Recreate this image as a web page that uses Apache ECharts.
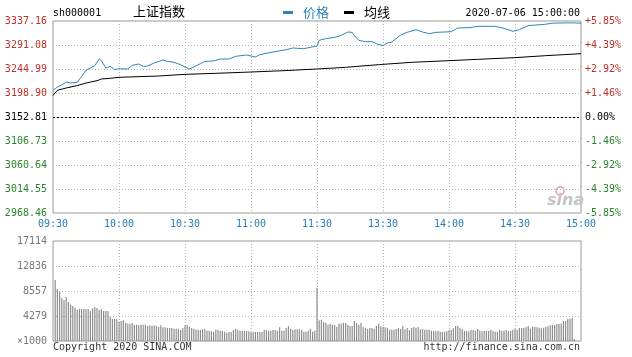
<!DOCTYPE html>
<html><head><meta charset="utf-8">
<script src="https://cdn.jsdelivr.net/npm/echarts@6/dist/echarts.min.js"></script>
<style>html,body{margin:0;padding:0;background:#fff}#c{width:632px;height:357px}</style>
</head><body><div id="c"></div>
<script>
// ---------- data ----------
const timeLabels = ['09:30','10:00','10:30','11:00','11:30','13:30','14:00','14:30','15:00'];
const priceTicks = ['2968.46','3014.55','3060.64','3106.73','3152.81','3198.90','3244.99','3291.08','3337.16'];
const pctTicks = ['-5.85%','-4.39%','-2.92%','-1.46%','0.00%','+1.46%','+2.92%','+4.39%','+5.85%'];
const volTicks = ['\u00d71000','4279','8557','12836','17114'];
const priceMin = 2968.46, priceMax = 3337.16, prevClose = 3152.81, volMax = 17114;

const priceMinutes = [0,2,5,6,8,11,13,15,17,19,21,22,24,26,28,30,34,36,39,41,43,46,50,52,55,58,60,62,64,67,69,73,76,80,83,88,92,94,100,106,109,114,119,120,121,124,128,131,134,136,137,139,142,145,147,150,152,154,158,161,165,168,171,174,178,181,184,189,193,201,205,209,212,216,224,227,233,237,240];
const priceValues = [3204.0,3210.4,3216.8,3220.0,3218.1,3219.4,3230.9,3242.4,3246.9,3251.4,3264.2,3261.0,3246.9,3250.1,3243.7,3245.6,3245.0,3252.0,3254.6,3250.1,3250.8,3256.5,3262.3,3259.7,3257.8,3253.3,3248.8,3245.0,3248.8,3255.2,3259.7,3260.4,3264.2,3264.2,3269.3,3271.9,3268.0,3272.5,3277.6,3282.1,3285.3,3284.0,3288.5,3288.5,3300.0,3303.2,3305.8,3309.6,3316.0,3315.4,3309.0,3300.0,3297.5,3297.5,3293.6,3289.8,3294.9,3296.8,3310.3,3315.4,3320.5,3316.0,3312.8,3315.4,3316.0,3316.7,3323.7,3324.4,3326.9,3326.9,3323.1,3317.3,3320.5,3328.2,3331.0,3333.0,3333.5,3333.5,3332.9];

const avgMinutes = [0,2,6,11,15,20,22,26,30,39,48,60,74,90,105,120,133,148,163,180,193,210,224,240];
const avgValues = [3194.4,3204.0,3208.5,3213.0,3218.1,3222.6,3225.8,3227.1,3229.0,3230.3,3231.5,3234.7,3236.7,3239.2,3241.8,3245.0,3248.2,3253.3,3257.8,3261.0,3263.5,3266.8,3270.6,3274.4];

// volume per minute, minutes 0..60, 61..120, 121..180, 181..240
const volHour1 = [null,10440,8900,8440,7360,7020,7530,6680,6220,5990,5710,5310,5480,5480,5480,5480,5480,5130,5590,5760,5650,5310,5420,5130,5130,5130,4170,3770,3770,3770,3310,3420,3540,3140,2970,2970,3080,2800,2800,2680,2800,2800,2800,2570,2680,2570,2680,2570,2400,2680,2340,2340,2230,2230,2230,2110,2110,2000,1880,2170,2680];
const volHour2 = [2800,2400,2230,2110,1940,1940,1940,2000,2110,1770,1770,1650,1600,1940,1940,1770,1770,1600,1430,1540,1540,1880,2110,1940,1770,1770,1770,1710,1650,1540,1540,1540,1540,1540,1540,1880,1880,1770,1770,1880,1880,1770,2340,1770,1770,2230,2570,2110,1880,2000,2000,2000,1880,1600,1600,1770,2110,1600,1770,9070];
const volHour3 = [3540,3650,3250,3140,2800,2970,2800,2740,2450,2970,2970,3140,3080,2800,2570,2570,3420,3080,2740,3080,2400,2170,2050,2230,2230,2110,2570,2970,2510,2400,2340,2230,1940,1940,1940,2050,2230,2050,2570,2000,2230,1880,2230,2400,2230,2400,2000,2050,1940,1940,1940,1770,1770,1650,1770,1600,1600,1600,1650,1880];
const volHour4 = [1940,2170,2570,2570,2170,2000,1770,1710,1650,1880,1880,1770,2050,1830,1650,1710,1710,1710,1880,1770,1600,1600,1880,1770,1770,1880,1710,1710,1880,2110,1940,2230,2230,2230,2400,2570,2110,2450,2450,2340,2280,2170,2280,2450,2510,2680,2800,2740,2910,2910,2970,3420,3420,3770,3820,3940,340,null,null,null];

// ---------- build ----------
const volumes = volHour1.concat(volHour2, volHour3, volHour4);
const volData = volumes.map((v, i) => [i, v]);
const priceData = priceMinutes.map((m, i) => [m, priceValues[i]]);
const avgData = avgMinutes.map((m, i) => [m, avgValues[i]]);
const priceStep = (priceMax - priceMin) / 8;
const volStep = volMax / 4;

const MONO = '"DejaVu Sans Mono","Liberation Mono",monospace';
const CJK = '"Noto Sans CJK SC",sans-serif';
const RED = '#c0302a', GREEN = '#2a862a', BLUE = '#2f86b5';
const dotted = { lineStyle: { color: '#b4b4b4', type: [1, 2], width: 1 }, showMinLine: false, showMaxLine: false };
const rich = {
  u: { color: RED, fontFamily: MONO, fontSize: 10 },
  d: { color: GREEN, fontFamily: MONO, fontSize: 10 },
  z: { color: '#000', fontFamily: MONO, fontSize: 10 }
};
function tagged(arr, v) {
  const i = Math.round((v - priceMin) / priceStep);
  const s = arr[i];
  if (s === undefined) return '';
  return (i > 4 ? '{u|' : i < 4 ? '{d|' : '{z|') + s + '}';
}

const chart = echarts.init(document.getElementById('c'), null, { renderer: 'canvas' });
chart.setOption({
  animation: false,
  backgroundColor: '#fff',
  grid: [
    { left: 53, right: 51, top: 21, height: 192, show: true, borderColor: '#999', borderWidth: 1 },
    { left: 53, right: 51, top: 241, height: 100, show: true, borderColor: '#999', borderWidth: 1 }
  ],
  legend: {
    left: 278, top: 1, icon: 'rect', itemWidth: 10, itemHeight: 3, itemGap: 15,
    textStyle: { fontFamily: CJK, fontSize: 13, padding: [0, 0, 0, 5] },
    data: [
      { name: '价格', textStyle: { color: BLUE } },
      { name: '均线', textStyle: { color: '#000' } }
    ]
  },
  xAxis: [
    { gridIndex: 0, type: 'value', min: 0, max: 240, interval: 30,
      axisLine: { show: false }, axisTick: { show: false }, splitLine: dotted,
      axisLabel: { margin: 6, color: '#2a7db5', fontFamily: MONO, fontSize: 10,
        formatter: v => timeLabels[Math.round(v / 30)] || '' } },
    { gridIndex: 1, type: 'value', min: 0, max: 240, interval: 30,
      axisLine: { show: false }, axisTick: { show: false }, splitLine: dotted,
      axisLabel: { show: false } }
  ],
  yAxis: [
    { gridIndex: 0, type: 'value', min: priceMin, max: priceMax, interval: priceStep,
      axisLine: { show: false }, axisTick: { show: false }, splitLine: dotted,
      axisLabel: { margin: 6, rich: rich, formatter: v => tagged(priceTicks, v) } },
    { gridIndex: 0, type: 'value', position: 'right', min: priceMin, max: priceMax, interval: priceStep,
      axisLine: { show: false }, axisTick: { show: false }, splitLine: { show: false },
      axisLabel: { margin: 4, rich: rich, formatter: v => tagged(pctTicks, v) } },
    { gridIndex: 1, type: 'value', min: 0, max: volMax, interval: volStep,
      axisLine: { show: false }, axisTick: { show: false }, splitLine: dotted,
      axisLabel: { margin: 6, color: '#777', fontFamily: MONO, fontSize: 10,
        formatter: v => volTicks[Math.round(v / volStep)] || '' } }
  ],
  series: [
    { name: '价格', type: 'line', xAxisIndex: 0, yAxisIndex: 0, data: priceData,
      symbol: 'none', color: BLUE, lineStyle: { color: BLUE, width: 1 },
      markLine: { silent: true, symbol: 'none', label: { show: false },
        lineStyle: { color: '#000', type: [2, 2], width: 1 }, data: [{ yAxis: prevClose }] } },
    { name: '均线', type: 'line', xAxisIndex: 0, yAxisIndex: 0, data: avgData,
      symbol: 'none', color: '#000', lineStyle: { color: '#000', width: 1 } },
    { name: '成交量', type: 'bar', xAxisIndex: 1, yAxisIndex: 2, data: volData,
      barWidth: 1.2, itemStyle: { color: '#8e8e8e' } }
  ],
  graphic: [
    { type: 'text', left: 53, top: 8, style: { text: 'sh000001', font: '10px ' + MONO, fill: '#000' } },
    { type: 'text', left: 133, top: 5, style: { text: '上证指数', font: '13px ' + CJK, fill: '#000' } },
    { type: 'text', right: 52, top: 8, style: { text: '2020-07-06 15:00:00', font: '10px ' + MONO, fill: '#000' } },
    { type: 'text', left: 53, top: 342, style: { text: 'Copyright 2020 SINA.COM', font: '10px ' + MONO, fill: '#333' } },
    { type: 'text', right: 52, top: 342, style: { text: 'http://finance.sina.com.cn', font: '10px ' + MONO, fill: '#333' } },
    { type: 'circle', shape: { cx: 560, cy: 191, r: 4 }, style: { fill: 'none', stroke: '#e6a0a0', lineWidth: 1.5 } },
    { type: 'text', left: 547, top: 193, style: { text: 'sina', font: 'italic bold 16px "DejaVu Sans",sans-serif', fill: '#c4c4c4' } }
  ]
});
</script></body></html>
